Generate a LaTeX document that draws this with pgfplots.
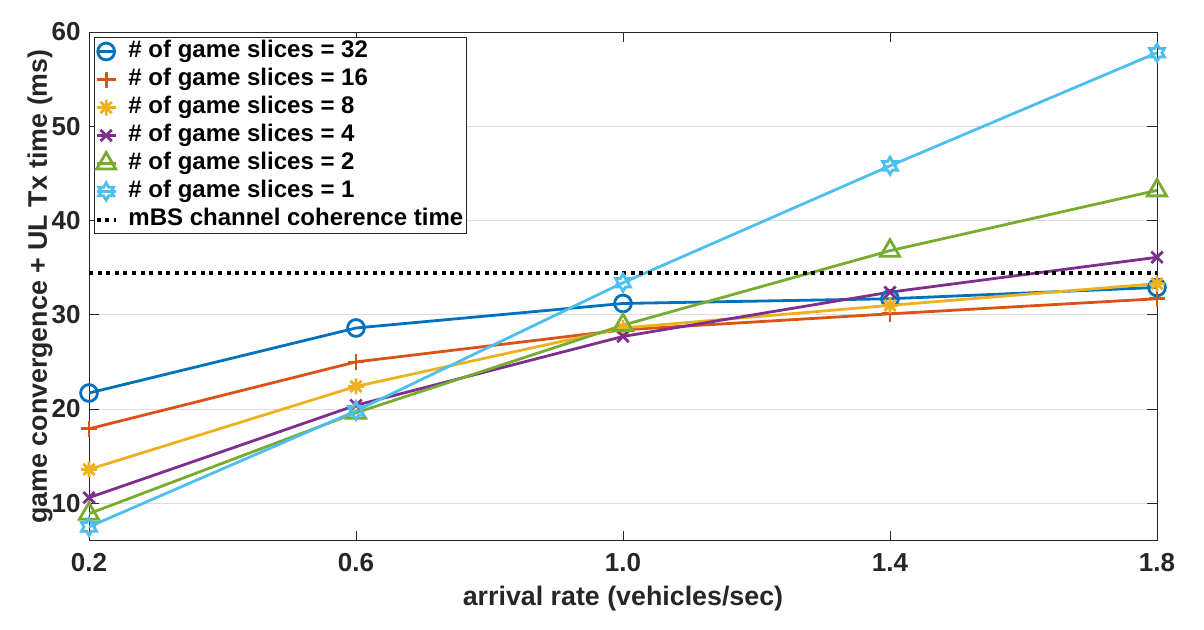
\documentclass[border=0pt]{standalone}
\usepackage{fontspec}
\setmainfont{Liberation Sans}
\usepackage{pgfplots}
\pgfplotsset{compat=1.18}
\definecolor{c1}{rgb}{0,0.447,0.741}
\definecolor{c2}{rgb}{0.85,0.325,0.098}
\definecolor{c3}{rgb}{0.929,0.694,0.125}
\definecolor{c4}{rgb}{0.494,0.184,0.556}
\definecolor{c5}{rgb}{0.466,0.674,0.188}
\definecolor{c6}{rgb}{0.301,0.745,0.933}
\definecolor{axgray}{rgb}{0.15,0.15,0.15}
\pgfdeclareplotmark{hexagram}{%
  \pgfpathmoveto{\pgfpointpolar{90}{\pgfplotmarksize}}%
  \pgfpathlineto{\pgfpointpolar{120}{0.577\pgfplotmarksize}}%
  \pgfpathlineto{\pgfpointpolar{150}{\pgfplotmarksize}}%
  \pgfpathlineto{\pgfpointpolar{180}{0.577\pgfplotmarksize}}%
  \pgfpathlineto{\pgfpointpolar{210}{\pgfplotmarksize}}%
  \pgfpathlineto{\pgfpointpolar{240}{0.577\pgfplotmarksize}}%
  \pgfpathlineto{\pgfpointpolar{270}{\pgfplotmarksize}}%
  \pgfpathlineto{\pgfpointpolar{300}{0.577\pgfplotmarksize}}%
  \pgfpathlineto{\pgfpointpolar{330}{\pgfplotmarksize}}%
  \pgfpathlineto{\pgfpointpolar{0}{0.577\pgfplotmarksize}}%
  \pgfpathlineto{\pgfpointpolar{30}{\pgfplotmarksize}}%
  \pgfpathlineto{\pgfpointpolar{60}{0.577\pgfplotmarksize}}%
  \pgfpathclose
  \pgfusepathqstroke
}
\pgfdeclareplotmark{ast8}{%
  \pgfpathmoveto{\pgfqpoint{-\pgfplotmarksize}{0pt}}%
  \pgfpathlineto{\pgfqpoint{\pgfplotmarksize}{0pt}}%
  \pgfpathmoveto{\pgfqpoint{0pt}{-\pgfplotmarksize}}%
  \pgfpathlineto{\pgfqpoint{0pt}{\pgfplotmarksize}}%
  \pgfpathmoveto{\pgfpointpolar{45}{\pgfplotmarksize}}%
  \pgfpathlineto{\pgfpointpolar{225}{\pgfplotmarksize}}%
  \pgfpathmoveto{\pgfpointpolar{135}{\pgfplotmarksize}}%
  \pgfpathlineto{\pgfpointpolar{315}{\pgfplotmarksize}}%
  \pgfusepathqstroke
}
\begin{document}
\begin{tikzpicture}
\begin{axis}[
  scale only axis,
  width=534pt, height=254.5pt,
  xmin=0.2, xmax=1.8, ymin=6, ymax=60,
  xtick={0.2,0.6,1.0,1.4,1.8},
  xticklabels={0.2,0.6,1.0,1.4,1.8},
  ytick={10,20,30,40,50,60},
  tick align=inside,
  major tick length=5pt,
  axis line style={axgray, line width=0.5pt},
  every tick/.style={axgray, line width=0.5pt},
  ymajorgrids,
  grid style={black!13, line width=0.5pt},
  tick label style={font=\fontsize{13}{15}\selectfont\bfseries, text=axgray},
  /pgf/number format/assume math mode=true,
  xticklabel style={anchor=base, yshift=-15.5pt},
  yticklabel style={anchor=east, inner sep=0pt, xshift=-4pt},
  xlabel={arrival rate (vehicles/sec)},
  ylabel={game convergence + UL Tx time (ms)},
  label style={font=\fontsize{13.4}{15}\selectfont\bfseries, text=axgray},
  xlabel style={at={(axis description cs:0.5,0)}, anchor=base, yshift=-32.5pt},
  ylabel style={at={(axis description cs:-0.0459,0.5)}, anchor=center},
  legend style={at={(0,1)}, anchor=north west, xshift=2.5pt, yshift=-2.5pt,
    draw=axgray, line width=0.5pt, fill=white,
    font=\fontsize{12}{14}\selectfont\bfseries,
    inner xsep=0pt, inner ysep=0pt, row sep=0pt,
    /tikz/every odd column/.append style={column sep=3.5pt},
    nodes={inner xsep=1.8pt, inner ysep=1.5pt, text height=8.6pt, text depth=2.4pt}},
  legend cell align=left,
  legend image code/.code={\draw[mark repeat=2,mark phase=2,#1] plot coordinates {(0cm,0cm) (0.17cm,0cm) (0.34cm,0cm)};},
]
\addplot[c1, line width=1.4pt, mark=o, mark size=4.2pt, mark options={solid}] coordinates {(0.2,21.7) (0.6,28.6) (1.0,31.2) (1.4,31.7) (1.8,32.9)};
\addlegendentry{\# of game slices = 32}
\addplot[c2, line width=1.4pt, mark=+, mark size=4pt] coordinates {(0.2,17.9) (0.6,25.0) (1.0,28.4) (1.4,30.1) (1.8,31.7)};
\addlegendentry{\# of game slices = 16}
\addplot[c3, line width=1.4pt, mark=ast8, mark size=4pt] coordinates {(0.2,13.6) (0.6,22.4) (1.0,28.6) (1.4,31.0) (1.8,33.3)};
\addlegendentry{\# of game slices = 8}
\addplot[c4, line width=1.4pt, mark=x, mark size=4pt] coordinates {(0.2,10.6) (0.6,20.4) (1.0,27.7) (1.4,32.4) (1.8,36.1)};
\addlegendentry{\# of game slices = 4}
\addplot[c5, line width=1.4pt, mark=triangle, mark size=5.5pt] coordinates {(0.2,8.9) (0.6,19.6) (1.0,28.9) (1.4,36.8) (1.8,43.2)};
\addlegendentry{\# of game slices = 2}
\addplot[c6, line width=1.4pt, mark=hexagram, mark size=4.3pt] coordinates {(0.2,7.5) (0.6,19.8) (1.0,33.4) (1.4,45.8) (1.8,57.8)};
\addlegendentry{\# of game slices = 1}
\addplot[black, line width=2pt, dash pattern=on 2pt off 2.3pt, no marks] coordinates {(0.2,34.4) (1.8,34.4)};
\addlegendentry{mBS channel coherence time}
\end{axis}
\path (current axis.south west) ++(-44.5pt,-44.5pt) rectangle ++(602pt,315pt);
\end{tikzpicture}
\end{document}
